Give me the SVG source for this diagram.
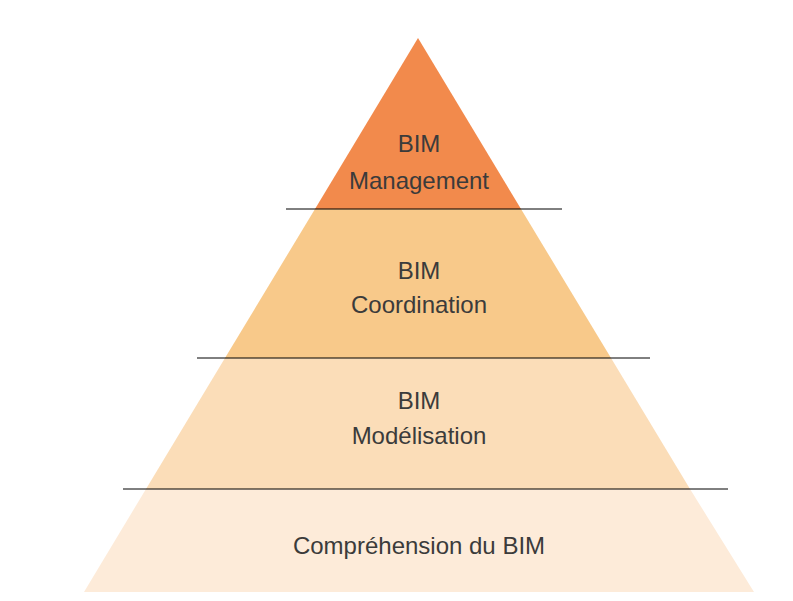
<svg xmlns="http://www.w3.org/2000/svg" width="793" height="601" viewBox="0 0 793 601">
<style>
text{font-family:"Liberation Sans",Arial,sans-serif;font-size:24px;fill:#3b3b3b;text-anchor:middle}
.sep{stroke:#000;stroke-width:1}
</style>
<rect width="793" height="601" fill="#fff"/>
<g id="level4"><polygon points="146,489 690,489 754,592 84,592" fill="#FDEBD9"/><text x="419" y="554">Compréhension du BIM</text></g>
<g id="level3"><polygon points="225,358 611,358 690,489 146,489" fill="#FBDDB8"/><text x="419" y="409">BIM</text><text x="419" y="444">Modélisation</text></g>
<g id="level2"><polygon points="315,209 521,209 611,358 225,358" fill="#F8C98A"/><text x="419" y="279">BIM</text><text x="419" y="313">Coordination</text></g>
<g id="level1"><polygon points="418,38 521,209 315,209" fill="#F28A4C"/><text x="419" y="152">BIM</text><text x="419" y="189">Management</text></g>
<g id="connectors">
<line class="sep" x1="286" y1="209" x2="562" y2="209"/>
<line class="sep" x1="197" y1="358" x2="650" y2="358"/>
<line class="sep" x1="123" y1="489" x2="728" y2="489"/>
</g>
</svg>
